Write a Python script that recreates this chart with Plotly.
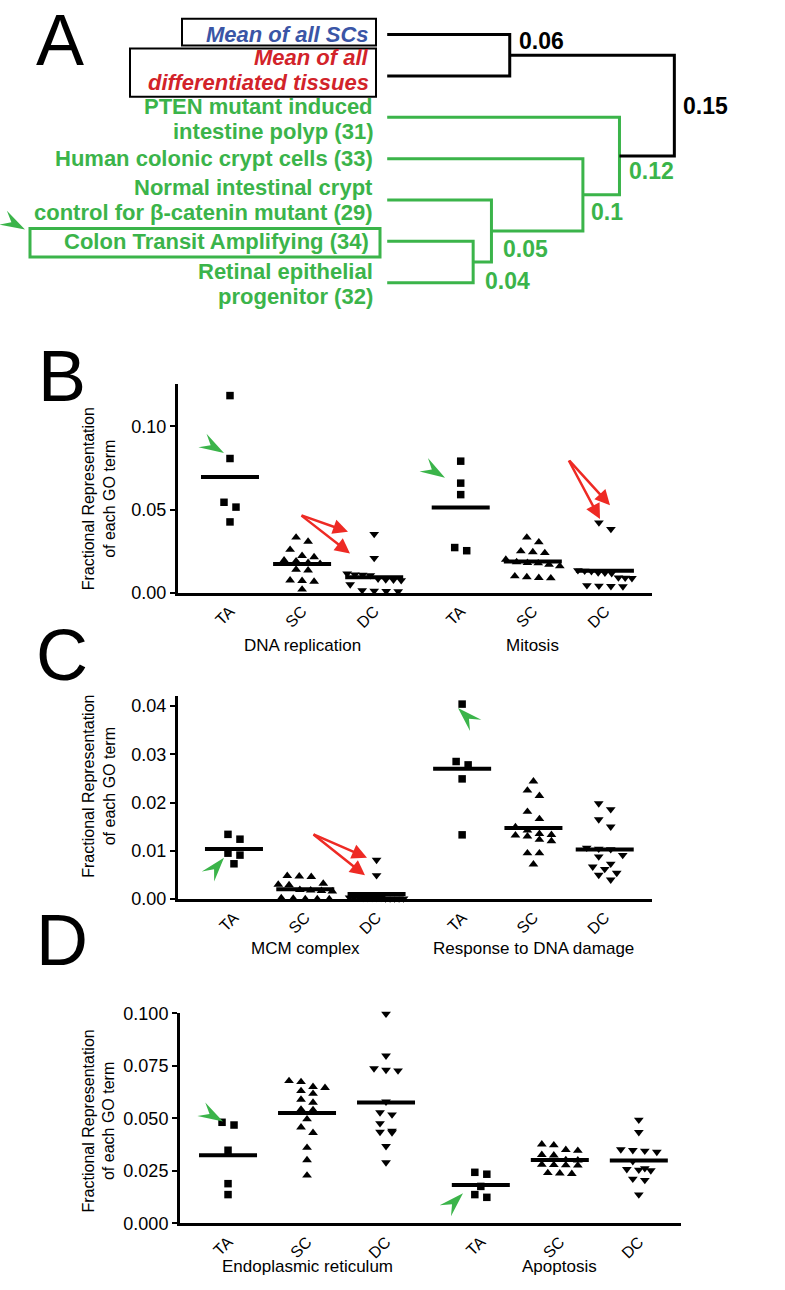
import math
import plotly.graph_objects as go

W, H = 785, 1290
GREEN = "#3bb44a"
BLUE = "#3a55a6"
RED = "#d2232a"
ARROW_RED = "#ee2a24"
FONT = "Liberation Sans, Arial, Helvetica, sans-serif"

# ---------------- A: clustering ----------------
leaf_text = [
    ["Mean of all SCs"],
    ["Mean of all", "differentiated tissues"],
    ["PTEN mutant induced", "intestine polyp (31)"],
    ["Human colonic crypt cells (33)"],
    ["Normal intestinal crypt", "control for β-catenin mutant (29)"],
    ["Colon Transit Amplifying (34)"],
    ["Retinal epithelial", "progenitor (32)"],
]
leaf_color = [BLUE, RED, GREEN, GREEN, GREEN, GREEN, GREEN]
# (child, child, distance) -- merged nodes get ids 7, 8, ... in this order
linkage = [(5, 6, 0.04), (4, 7, 0.05), (3, 8, 0.10), (2, 9, 0.12), (0, 1, 0.06), (11, 10, 0.15)]
link_color = [GREEN, GREEN, GREEN, GREEN, "black", "black"]
link_label = ["0.04", "0.05", "0.1", "0.12", "0.06", "0.15"]

# ---------------- B-D: GO term fractions ----------------
x_labels = ["TA", "SC", "DC", "TA", "SC", "DC"]
b_terms = ["DNA replication", "Mitosis"]
c_terms = ["MCM complex", "Response to DNA damage"]
d_terms = ["Endoplasmic reticulum", "Apoptosis"]

dna_rep_ta = [0.1185, 0.0807, 0.0544, 0.0515, 0.0426]
dna_rep_sc = [0.0333, 0.0308, 0.0259, 0.0222, 0.0215, 0.0195, 0.0190, 0.0180, 0.0175, 0.0140, 0.0135, 0.0075, 0.0072, 0.0068, 0.0020]
dna_rep_dc = [0.0353, 0.0209, 0.0115, 0.0110, 0.0108, 0.0105, 0.0085, 0.0080, 0.0078, 0.0075, 0.0050, 0.0015, 0.0012, 0.0010, 0.0008]
mitosis_ta = [0.0791, 0.0659, 0.0590, 0.0272, 0.0253]
mitosis_sc = [0.0333, 0.0304, 0.0250, 0.0245, 0.0240, 0.0200, 0.0185, 0.0180, 0.0178, 0.0170, 0.0160, 0.0100, 0.0095, 0.0090, 0.0088]
mitosis_dc = [0.0422, 0.0383, 0.0135, 0.0132, 0.0130, 0.0122, 0.0120, 0.0118, 0.0092, 0.0090, 0.0088, 0.0045, 0.0042, 0.0040, 0.0038]

mcm_ta = [0.0134, 0.0124, 0.0095, 0.0091, 0.0073]
mcm_sc = [0.0048, 0.0047, 0.0046, 0.0032, 0.0030, 0.0029, 0.0019, 0.0018, 0.0017, 0.0016, 0.0002, 0.0001, 0.0000, 0.0000, 0.0000]
mcm_dc = [0.0081, 0.0049, 0.0003, 0.0003, 0.0003, 0.0002, 0.0002, 0.0002, 0.0002, 0.0002, 0.0001, 0.0001, 0.0001, 0.0001, 0.0001]
dna_damage_ta = [0.0404, 0.0285, 0.0278, 0.0249, 0.0133]
dna_damage_sc = [0.0244, 0.0225, 0.0214, 0.0181, 0.0166, 0.0149, 0.0142, 0.0135, 0.0133, 0.0132, 0.0130, 0.0123, 0.0120, 0.0095, 0.0095, 0.0072]
dna_damage_dc = [0.0198, 0.0186, 0.0165, 0.0150, 0.0106, 0.0104, 0.0103, 0.0091, 0.0088, 0.0073, 0.0067, 0.0062, 0.0054, 0.0050, 0.0040]

er_ta = [0.0481, 0.0468, 0.0348, 0.0189, 0.0137]
er_sc = [0.0678, 0.0673, 0.0650, 0.0645, 0.0630, 0.0617, 0.0589, 0.0575, 0.0542, 0.0540, 0.0496, 0.0457, 0.0431, 0.0360, 0.0301, 0.0228]
er_dc = [0.0997, 0.0798, 0.0737, 0.0730, 0.0727, 0.0579, 0.0528, 0.0518, 0.0476, 0.0440, 0.0435, 0.0433, 0.0367, 0.0290]
apoptosis_ta = [0.0243, 0.0234, 0.0176, 0.0137, 0.0124]
apoptosis_sc = [0.0376, 0.0372, 0.0350, 0.0346, 0.0326, 0.0324, 0.0302, 0.0300, 0.0280, 0.0278, 0.0277, 0.0276, 0.0240, 0.0238, 0.0236]
apoptosis_dc = [0.0493, 0.0434, 0.0352, 0.0348, 0.0345, 0.0340, 0.0296, 0.0262, 0.0258, 0.0255, 0.0252, 0.0212, 0.0206, 0.0137]

cat_pos = [0, 1, 2, 3.2, 4.2, 5.2]


def px(x):
    return x / W


def py(y):
    return 1 - y / H


def swarm(values, ppx, ppy, step=12, row=8, max_w=54):
    # spread points sharing (roughly) the same height side by side
    order = sorted(range(len(values)), key=lambda i: -values[i])
    rows = []
    for i in order:
        if rows and (values[rows[-1][0]] - values[i]) * ppy < row:
            rows[-1].append(i)
        else:
            rows.append([i])
    off = [0.0] * len(values)
    for r in rows:
        s = step if len(r) < 2 else min(step, max_w / (len(r) - 1))
        for k, i in enumerate(r):
            off[i] = (k - (len(r) - 1) / 2) * s / ppx
    return off


def arrowhead(tip, back, L=25, half=8):
    dx, dy = tip[0] - back[0], tip[1] - back[1]
    n = math.hypot(dx, dy)
    ux, uy = dx / n, dy / n
    vx, vy = -uy, ux
    tx, ty = tip
    pts = [(tx, ty),
           (tx - L * ux + half * vx, ty - L * uy + half * vy),
           (tx - 0.62 * L * ux, ty - 0.62 * L * uy),
           (tx - L * ux - half * vx, ty - L * uy - half * vy)]
    return "M " + " L ".join(f"{px(a):.5f},{py(b):.5f}" for a, b in pts) + " Z"


fig = go.Figure()
annotations = []
shapes = []

# ---------- dendrogram ----------
LEAF_START = -0.007
node_x = [LEAF_START] * 7
node_y = list(range(7))
for (a, b, d), col in zip(linkage, link_color):
    fig.add_trace(go.Scatter(
        x=[node_x[a], d, d, node_x[b]],
        y=[node_y[a], node_y[a], node_y[b], node_y[b]],
        mode="lines", line=dict(color=col, width=3),
        xaxis="x", yaxis="y", hoverinfo="skip", showlegend=False))
    node_x.append(d)
    node_y.append((node_y[a] + node_y[b]) / 2)

label_shift = [(10, -19), (10, -18), (6, -17), (8, -15), (7, 14), (7, 0)]
for k, (a, b, d) in enumerate(linkage):
    annotations.append(dict(
        x=d, y=node_y[7 + k], xref="x", yref="y", text=f"<b>{link_label[k]}</b>",
        showarrow=False, xanchor="left", yanchor="middle",
        xshift=label_shift[k][0], yshift=label_shift[k][1],
        font=dict(size=23, color=link_color[k], family=FONT)))

# pixel offset of each text line from its leaf
line_offsets = [[0], [-18, 7], [-11, 14], [0], [-13, 12], [0], [-11, 14]]
for i, lines in enumerate(leaf_text):
    boxed = i < 2 or i == 5
    for ln, off in zip(lines, line_offsets[i]):
        txt = f"<b><i>{ln}</i></b>" if i < 2 else f"<b>{ln}</b>"
        annotations.append(dict(
            x=px(370 if boxed else 374), y=i, xref="paper", yref="y", text=txt,
            showarrow=False, xanchor="right", yanchor="middle", yshift=-off, borderpad=0,
            font=dict(size=22, color=leaf_color[i], family=FONT)))

for (x0, y0, x1, y1), col, lw in [((182, 9, 376, 36), "black", 2),
                                  ((130, 39, 376, 88), "black", 2),
                                  ((30, 222, 380, 251), GREEN, 3)]:
    shapes.append(dict(type="rect", xref="paper", yref="paper",
                       x0=px(x0), x1=px(x1), y0=py(y1), y1=py(y0),
                       line=dict(color=col, width=lw)))

fig.update_layout(
    xaxis=dict(domain=[0, 1], range=[-400 / 1829, 385 / 1829], visible=False),
    yaxis=dict(domain=[1 - 330 / H, 1], range=[(330 - 25) / 42, -25 / 42], visible=False),
)

# ---------- dot plots ----------
panels = [
    dict(letter="B", letter_y=372, terms=b_terms,
         groups=[dna_rep_ta, dna_rep_sc, dna_rep_dc, mitosis_ta, mitosis_sc, mitosis_dc],
         box=(178, 652, 380, 592), xr=(-0.721, 5.853), yr=(0, 0.1254),
         tickvals=[0, 0.05, 0.10], fmt=".2f", title_y=497, term_y=645),
    dict(letter="C", letter_y=655, terms=c_terms,
         groups=[mcm_ta, mcm_sc, mcm_dc, dna_damage_ta, dna_damage_sc, dna_damage_dc],
         box=(178, 652, 697, 903), xr=(-0.785, 5.863), yr=(0, 0.04204),
         tickvals=[0, 0.01, 0.02, 0.03, 0.04], fmt=".2f", title_y=789, term_y=953),
    dict(letter="D", letter_y=945, terms=d_terms,
         groups=[er_ta, er_sc, er_dc, apoptosis_ta, apoptosis_sc, apoptosis_dc],
         box=(180, 681, 1019, 1232.5), xr=(-0.608, 5.734), yr=(0, 0.100),
         tickvals=[0, 0.025, 0.05, 0.075, 0.1], fmt=".3f", title_y=1129, term_y=1276),
]
symbols = ["square", "triangle-up", "triangle-down"]
sizes = [7.5, 8.5, 8.5]

for n, p in enumerate(panels, start=2):
    xl, xr_px, yt, yb = p["box"]
    ppx = (xr_px - xl) / (p["xr"][1] - p["xr"][0])
    ppy = (yb - yt) / (p["yr"][1] - p["yr"][0])
    half = 29 / ppx
    for g, vals in enumerate(p["groups"]):
        offs = swarm(vals, ppx, ppy)
        fig.add_trace(go.Scatter(
            x=[cat_pos[g] + o for o in offs], y=vals, mode="markers",
            marker=dict(symbol=symbols[g % 3], size=sizes[g % 3], color="black", line=dict(width=0)),
            xaxis=f"x{n}", yaxis=f"y{n}", cliponaxis=False, showlegend=False))
        m = sum(vals) / len(vals)
        fig.add_trace(go.Scatter(
            x=[cat_pos[g] - half, cat_pos[g] + half], y=[m, m], mode="lines",
            line=dict(color="black", width=4),
            xaxis=f"x{n}", yaxis=f"y{n}", cliponaxis=False, showlegend=False))
    fig.update_layout({
        f"xaxis{n}": dict(domain=[px(xl), px(xr_px)], range=list(p["xr"]), anchor=f"y{n}",
                          showline=True, linecolor="black", linewidth=3, ticks="",
                          tickvals=cat_pos, ticktext=x_labels, tickangle=-45,
                          showgrid=False, zeroline=False,
                          tickfont=dict(size=16, color="black", family=FONT)),
        f"yaxis{n}": dict(domain=[py(yb), py(yt)], range=list(p["yr"]), anchor=f"x{n}",
                          showline=True, linecolor="black", linewidth=3,
                          ticks="outside", ticklen=5, tickwidth=2, tickcolor="black",
                          tickvals=p["tickvals"], tickformat=p["fmt"],
                          showgrid=False, zeroline=False,
                          tickfont=dict(size=18, color="black", family=FONT)),
    })
    for t, c in zip(p["terms"], [cat_pos[1], cat_pos[4]]):
        annotations.append(dict(x=c, y=py(p["term_y"]), xref=f"x{n}", yref="paper",
                                text=t, showarrow=False, xanchor="center", yanchor="middle",
                                font=dict(size=17, color="black", family=FONT)))
    annotations.append(dict(x=px(99), y=py(p["title_y"]), xref="paper", yref="paper",
                            text="Fractional Representation<br>of each GO term", textangle=-90,
                            showarrow=False, xanchor="center", yanchor="middle",
                            font=dict(size=16, color="black", family=FONT)))
    annotations.append(dict(x=px(62), y=py(p["letter_y"]), xref="paper", yref="paper",
                            text=p["letter"], showarrow=False, xanchor="center", yanchor="middle",
                            font=dict(size=72, color="black", family=FONT)))

annotations.append(dict(x=px(60), y=py(30), xref="paper", yref="paper", text="A",
                        showarrow=False, xanchor="center", yanchor="middle",
                        font=dict(size=72, color="black", family=FONT)))

# green arrowheads (tip, back)
green_heads = [((25, 223), (3, 211)), ((224, 450), (202, 437)), ((445, 475), (424, 462)),
               ((224, 861), (209, 879)), ((458, 709), (475, 726)),
               ((223, 1129), (202, 1117)), ((463, 1202), (447, 1218))]
for tip, back in green_heads:
    shapes.append(dict(type="path", xref="paper", yref="paper", path=arrowhead(tip, back),
                       fillcolor=GREEN, line=dict(width=0)))

# red arrows (tail, head)
red_arrows = [((300, 513), (348, 530)), ((300, 513), (350, 552)),
              ((568, 457), (610, 503)), ((568, 457), (600, 517)),
              ((312, 837), (367, 861)), ((312, 837), (365, 879))]
for tail, head in red_arrows:
    annotations.append(dict(x=px(head[0]), y=py(head[1]), xref="paper", yref="paper",
                            ax=tail[0] - head[0], ay=tail[1] - head[1], text="",
                            showarrow=True, arrowhead=2, arrowsize=1.2, arrowwidth=2.5,
                            arrowcolor=ARROW_RED, standoff=0))

fig.update_layout(
    width=W, height=H, margin=dict(l=0, r=0, t=0, b=0),
    paper_bgcolor="white", plot_bgcolor="white",
    font=dict(family=FONT, color="black"),
    annotations=annotations, shapes=shapes, showlegend=False,
)

# page body has a default 8px margin; drop it so the figure sits at the window corner
fig.write_html("out.html", config={"displayModeBar": False},
               post_script="document.body.style.margin='0px';")
